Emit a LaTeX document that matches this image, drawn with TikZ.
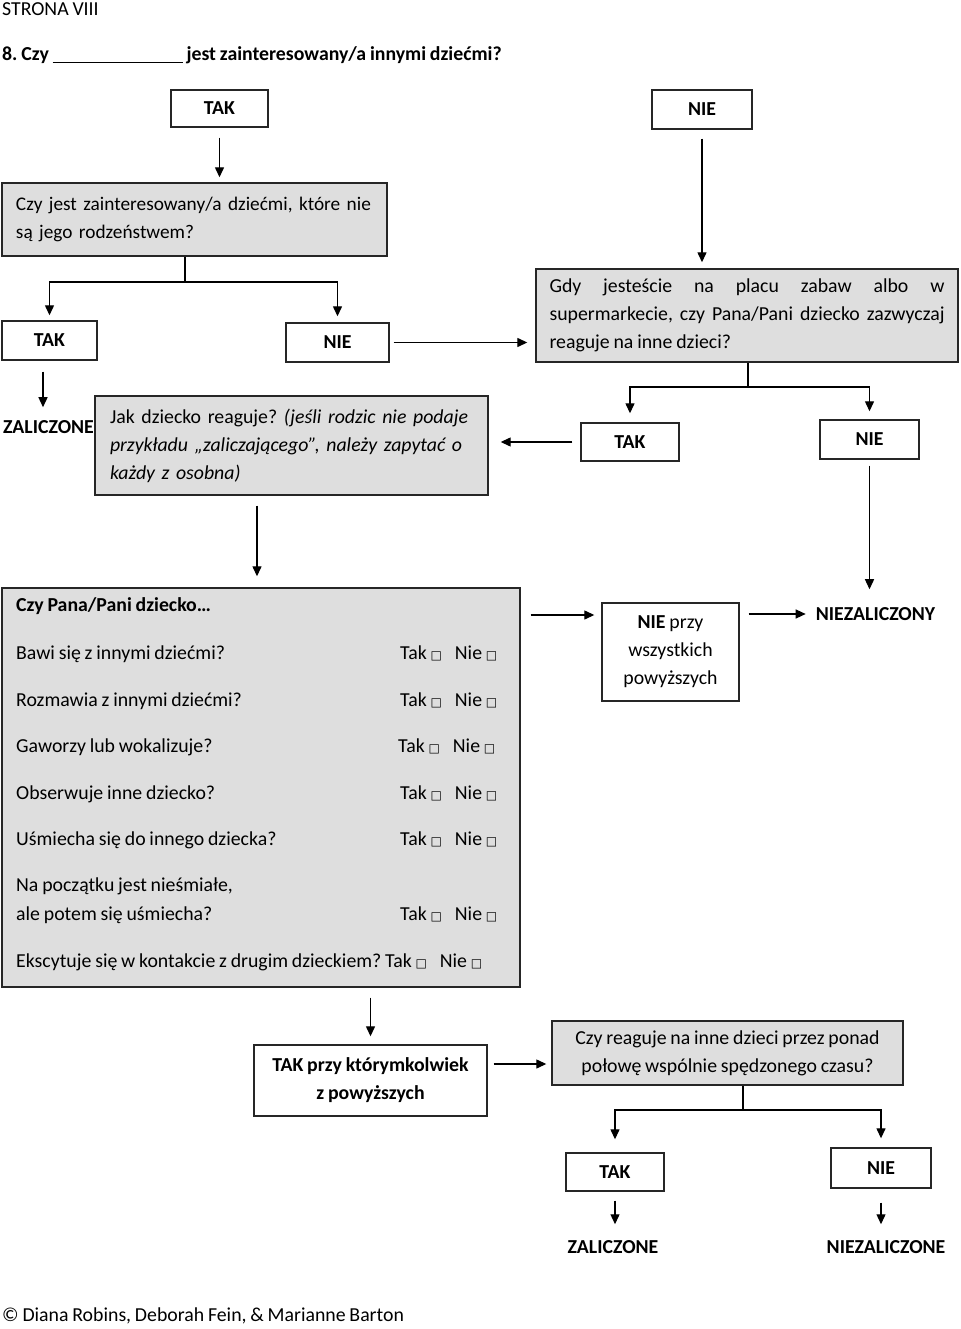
\documentclass[tikz,border=0pt]{standalone}
\usepackage{fontspec}
\setmainfont{Carlito}[WordSpace={0.85,0.6,0.6}]
\newfontfamily\symfont{DejaVu Sans}
\usetikzlibrary{arrows.meta}
\frenchspacing
\newcommand{\sqbox}{{\symfont\fontsize{12}{12}\selectfont □}}
\newcommand{\tn}{Tak \sqbox\hspace{13pt}Nie \sqbox}
\begin{document}
\begin{tikzpicture}[x=1pt,y=-1pt,
  every node/.style={font=\fontsize{19.8}{28}\selectfont, inner sep=0pt},
  box/.style={draw=black!85, line width=1.4pt, align=center},
  gbox/.style={box, fill=black!13},
  arr/.style={-{Triangle[length=10pt,width=9pt]}, line width=1.3pt},
  ln/.style={line width=1.3pt},
  lbl/.style={font=\fontsize{19.8}{28}\selectfont\bfseries},
  row/.style={anchor=west, text height=13pt, text depth=4pt}
]
\useasboundingbox (0,0) rectangle (960,1329);

% header
\node[anchor=west] (strona) at (2,9) {STRONA VIII};
\node[anchor=west, lbl] (title) at (2,55) {8. Czy \rule[-3pt]{130pt}{1.2pt} jest zainteresowany/a innymi dziećmi?};

% top level
\node[box, minimum width=97, minimum height=37] (tak1) at (219.5,108.5) {\bfseries TAK};
\node[box, minimum width=100, minimum height=39] (nie1) at (702,109.5) {\bfseries NIE};

\node[gbox, minimum width=385, minimum height=73, text width=357, align=left, font=\fontsize{19.3}{28}\selectfont] (q1) at (194.5,219.5)
  {\mbox{Czy jest zainteresowany/a dziećmi, które nie}\\\mbox{są jego rodzeństwem?}};

\node[gbox, minimum width=422, minimum height=93, text width=395, align=justify] (q2) at (747,315.5)
  {Gdy jesteście na placu zabaw albo w\linebreak supermarkecie, czy Pana/Pani dziecko zazwyczaj\linebreak reaguje na inne dzieci?};

\node[box, minimum width=95, minimum height=39] (tak2) at (49.5,340.5) {\bfseries TAK};
\node[box, minimum width=103, minimum height=39] (nie2) at (337.5,342.5) {\bfseries NIE};
\node[lbl] (zal1) at (48.5,427) {ZALICZONE};

\node[gbox, minimum width=393, minimum height=99, text width=363, align=left] (jak) at (291.5,445.5)
  {\mbox{Jak dziecko reaguje? \textit{(jeśli rodzic nie podaje}}\\\mbox{\textit{przykładu „zaliczającego”, należy zapytać o}}\\\mbox{\textit{każdy z osobna)}}};

\node[box, minimum width=98, minimum height=38] (tak3) at (630,442) {\bfseries TAK};
\node[box, minimum width=99, minimum height=39] (nie3) at (869.5,439.5) {\bfseries NIE};

% big box
\node[gbox, minimum width=518, minimum height=399] (big) at (261,787.5) {};
\node[row, font=\fontsize{19.8}{28}\selectfont\bfseries] (r0) at (16,607) {Czy Pana/Pani dziecko…};
\node[row] (r1) at (16,655) {Bawi się z innymi dziećmi?};
\node[row] (r1a) at (400,655) {\tn};
\node[row] (r2) at (16,702) {Rozmawia z innymi dziećmi?};
\node[row] (r2a) at (400,702) {\tn};
\node[row] (r3) at (16,748) {Gaworzy lub wokalizuje?};
\node[row] (r3a) at (398,748) {\tn};
\node[row] (r4) at (16,795) {Obserwuje inne dziecko?};
\node[row] (r4a) at (400,795) {\tn};
\node[row] (r5) at (16,841) {Uśmiecha się do innego dziecka?};
\node[row] (r5a) at (400,841) {\tn};
\node[row] (r6) at (16,887) {Na początku jest nieśmiałe,};
\node[row] (r6b) at (16,916) {ale potem się uśmiecha?};
\node[row] (r6a) at (400,916) {\tn};
\node[row] (r7) at (16,963) {Ekscytuje się w kontakcie z drugim dzieckiem? \tn};

\node[box, minimum width=137, minimum height=98] (nieprzy) at (670.5,652)
  {\textbf{NIE} przy\\wszystkich\\powyższych};
\node[lbl] (niezal) at (875.5,614) {NIEZALICZONY};

\node[box, minimum width=233, minimum height=71, font=\fontsize{19.8}{28}\selectfont\bfseries] (takprzy) at (370.5,1080.5)
  {TAK przy którymkolwiek\\z powyższych};
\node[gbox, minimum width=351, minimum height=64] (q3) at (727.5,1053)
  {Czy reaguje na inne dzieci przez ponad\\połowę wspólnie spędzonego czasu?};

\node[box, minimum width=98, minimum height=38] (tak4) at (615,1172) {\bfseries TAK};
\node[box, minimum width=100, minimum height=40] (nie4) at (881,1168) {\bfseries NIE};
\node[lbl] (zal2) at (613,1247) {ZALICZONE};
\node[lbl] (niezal2) at (886,1247) {NIEZALICZONE};

\node[anchor=west] (foot) at (2,1316) {© Diana Robins, Deborah Fein, \& Marianne Barton};

% connectors
\draw[arr, shorten <=10pt, shorten >=5pt] (tak1.south) -- (tak1.south |- q1.north);
\draw[arr, shorten <=9pt, shorten >=6pt] (nie1.south) -- (nie1.south |- q2.north);

\coordinate (br1) at (185,282);
\draw[ln] (br1 |- q1.south) -- (br1);
\draw[arr, shorten >=5pt] (br1) -| (tak2.north);
\draw[arr, shorten >=6pt] (br1) -| (nie2.north);

\draw[arr, shorten <=4pt, shorten >=8pt] (nie2.east) -- (nie2.east -| q2.west);

\coordinate (zs) at ([xshift=-6.5pt]tak2.south);
\draw[arr, shorten <=11pt, shorten >=13pt] (zs) -- (zs |- zal1.north);

\coordinate (br2) at (748,387);
\draw[ln] (br2 |- q2.south) -- (br2);
\draw[arr, shorten >=9pt] (br2) -| (tak3.north);
\draw[arr, shorten >=8pt] (br2) -| (nie3.north);

\draw[arr, shorten <=8pt, shorten >=12pt] (tak3.west) -- (tak3.west -| jak.east);
\draw[arr, shorten <=6pt, shorten >=18pt] (nie3.south) -- (nie3.south |- niezal.north);

\coordinate (js) at ([xshift=-34.5pt]jak.south);
\draw[arr, shorten <=10pt, shorten >=11pt] (js) -- (js |- big.north);

\coordinate (bn) at ([yshift=37pt]nieprzy.west);
\draw[arr, shorten <=10pt, shorten >=7pt] (bn -| big.east) -- (bn);
\draw[arr, shorten <=9pt, shorten >=10pt] (nieprzy.east |- niezal.west) -- (niezal.west);

\draw[arr, shorten <=10pt, shorten >=8pt] (takprzy.north |- big.south) -- (takprzy.north);
\coordinate (tq) at ([yshift=16.5pt]takprzy.east);
\draw[arr, shorten <=6pt, shorten >=5pt] (tq) -- (tq -| q3.west);

\coordinate (br3) at (743,1110);
\draw[ln] (br3 |- q3.south) -- (br3);
\draw[arr, shorten >=13pt] (br3) -| (tak4.north);
\draw[arr, shorten >=9pt] (br3) -| (nie4.north);

\draw[arr, shorten <=9pt, shorten >=16pt] (tak4.south) -- (tak4.south |- zal2.north);
\draw[arr, shorten <=14pt, shorten >=16pt] (nie4.south) -- (nie4.south |- niezal2.north);
\end{tikzpicture}
\end{document}
